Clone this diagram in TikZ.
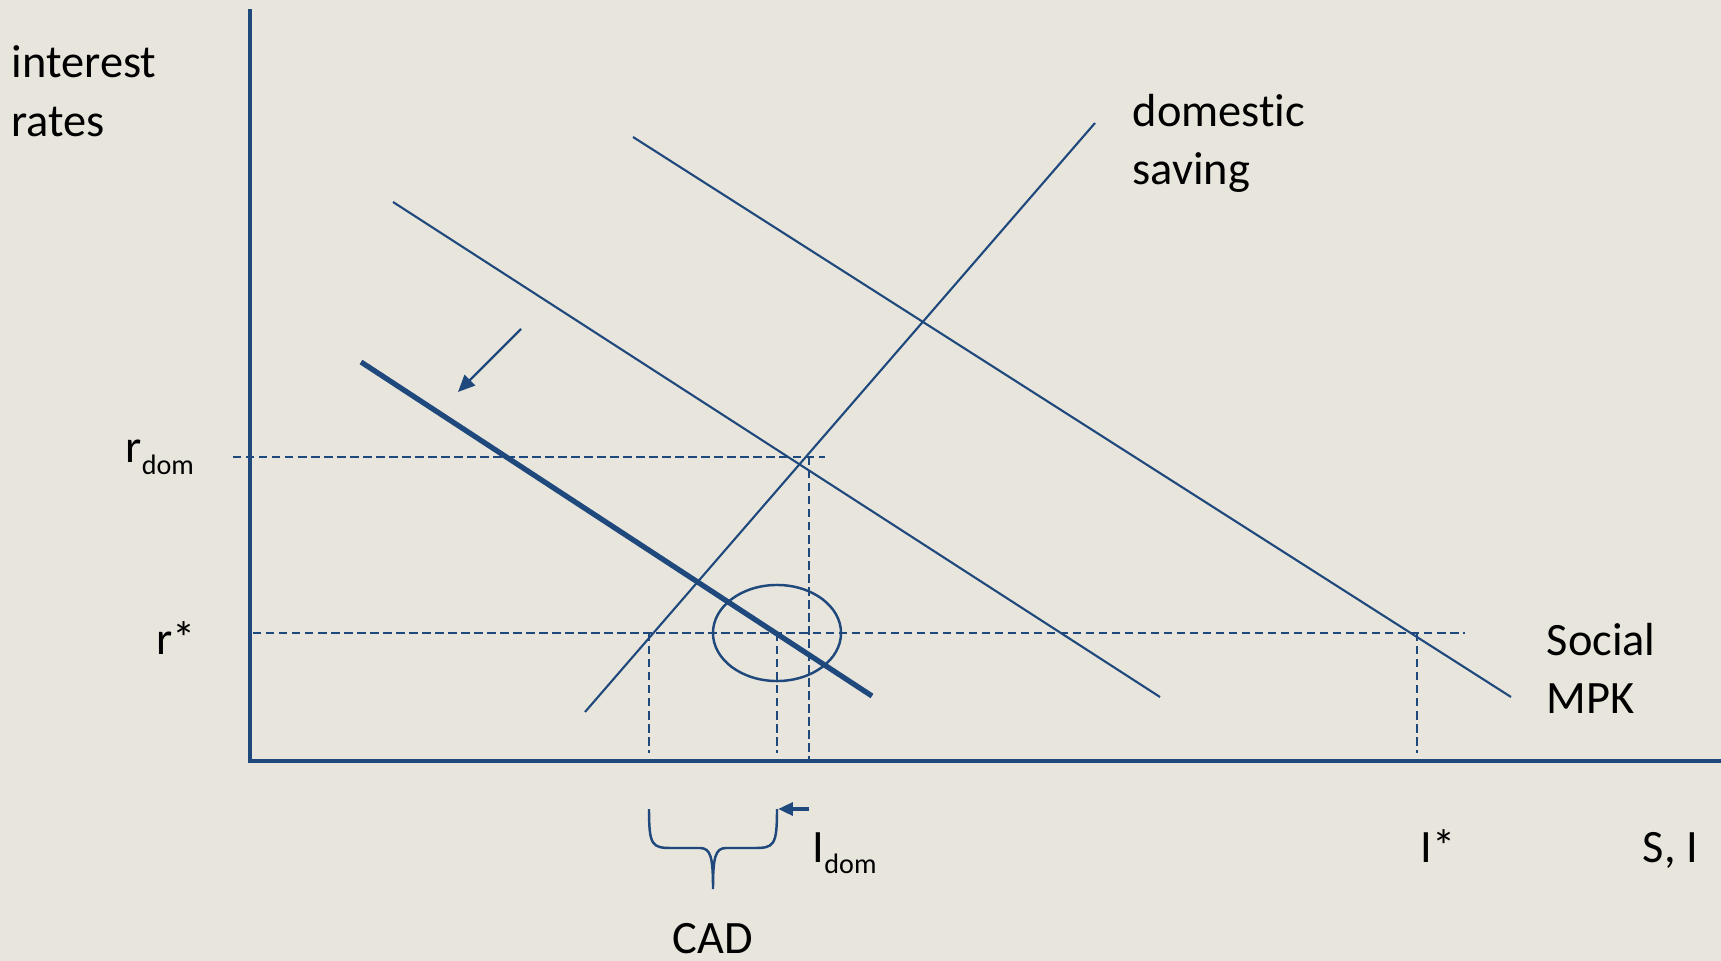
\documentclass[tikz,border=0pt]{standalone}
\usepackage{fontspec}
\setmainfont[Ligatures=NoCommon]{Carlito}
\usetikzlibrary{arrows.meta}
\definecolor{chartblue}{HTML}{1F497D}
\definecolor{paper}{RGB}{232,229,220}
\tikzset{
  axis/.style={chartblue, line width=1.1pt},
  curve/.style={chartblue, line width=0.6pt},
  guide/.style={chartblue, line width=0.7pt, dash pattern=on 2.4pt off 1.3pt},
  lbl/.style={anchor=base west, inner sep=0pt, font=\fontsize{13.2}{16.2}\selectfont},
}
\newcommand{\lowsub}[1]{\raisebox{-0.11cm}{\fontsize{8}{8}\selectfont #1}}

\begin{document}
\begin{tikzpicture}[x=0.01cm, y=-0.01cm]
  % fundo
  \fill[paper] (0,0) rectangle (1721,961);
  \useasboundingbox (0,0) rectangle (1721,961);
  % eixos
  \coordinate (origin) at (250,761);
  \draw[axis] (250,9) -- (origin) -- (1721,761);
  % linhas tracejadas: r_dom e r*
  \coordinate (rdom) at (809,457);
  \coordinate (sstar) at (649,633);
  \coordinate (idom) at (777,633);
  \coordinate (istar) at (1417,633);
  \draw[guide] (233,457) -- (825,457);
  \draw[guide] (rdom) -- (809,761);
  \draw[guide] (253,633) -- (1465,633);
  \draw[guide] (sstar) -- (649,753);
  \draw[guide] (idom) -- (777,753);
  \draw[guide] (istar) -- (1417,753);
  % poupanca domestica e curvas MPK
  \draw[curve] (585,712) -- (1095,123);
  \draw[curve] (633,137) -- (1511,697);
  \draw[curve] (393,202) -- (1160,697);
  \draw[chartblue, line width=1.5pt] (361,362) -- (872,696);
  % deslocamento
  \draw[chartblue, line width=0.7pt, -{Triangle[length=4.8pt, width=4.2pt]}]
    (521,329) -- (458,392);
  \draw[curve, line width=0.7pt] (idom) ellipse [x radius=0.64cm, y radius=0.48cm];
  % chave do CAD
  \draw[curve, line width=0.7pt] (649,809) .. controls (649,846) and (652,848) .. (672,848)
    -- (700,848) .. controls (711,848) and (713,858) .. (713,889)
    .. controls (713,858) and (715,848) .. (726,848)
    -- (754,848) .. controls (774,848) and (777,846) .. (777,809);
  \draw[chartblue, line width=1.1pt, -{Triangle[length=4.2pt, width=3.6pt]}]
    (809,809) -- (778,809);
  % rotulos
  \node[lbl] (ylab1) at (11,78) {interest};
  \node[lbl] (ylab2) at (11,137) {rates};
  \node[lbl] (sav1) at (1132,127) {domestic};
  \node[lbl] (sav2) at (1132,185) {saving};
  \node[lbl] (mpk1) at (1546,655) {Social};
  \node[lbl] (mpk2) at (1546,713) {MPK};
  \node[lbl] (rdomlab) at (125,463) {r\lowsub{dom}};
  \node[lbl] (rstarlab) at (156,654) {r*};
  \node[lbl] (idomlab) at (812,862) {I\lowsub{dom}};
  \node[lbl] (istarlab) at (1420,862) {I*};
  \node[lbl] (silab) at (1642,862) {S, I};
  \node[lbl, anchor=base] (cadlab) at (713,953) {CAD};
\end{tikzpicture}
\end{document}
